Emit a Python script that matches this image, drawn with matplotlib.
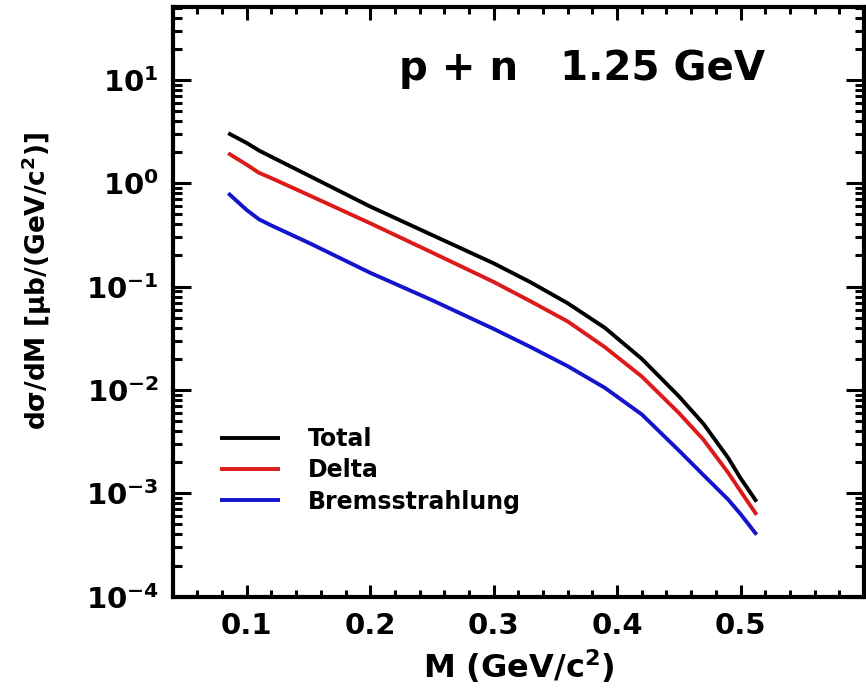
import numpy as np
import matplotlib.pyplot as plt
from matplotlib.ticker import FixedLocator, MultipleLocator, LogLocator, NullFormatter

plt.rcParams['font.family'] = 'DejaVu Sans'
plt.rcParams['font.weight'] = 'bold'
plt.rcParams['mathtext.default'] = 'bf'

# invariant mass (GeV/c^2)
mass = [0.085, 0.10, 0.11, 0.12, 0.15, 0.20, 0.25, 0.30, 0.33, 0.36,
        0.39, 0.42, 0.45, 0.47, 0.49, 0.50, 0.513]

# d sigma / dM  [mub/(GeV/c^2)]
total = [3.05, 2.45, 2.07, 1.80, 1.19, 0.595, 0.316, 0.168, 0.110, 0.069,
         0.040, 0.020, 0.0087, 0.0047, 0.0022, 0.0014, 0.00083]
delta = [1.95, 1.51, 1.26, 1.12, 0.77, 0.41, 0.214, 0.111, 0.072, 0.046,
         0.026, 0.0135, 0.0060, 0.0033, 0.00158, 0.00105, 0.00062]
brems = [0.80, 0.55, 0.447, 0.39, 0.266, 0.136, 0.074, 0.039, 0.026, 0.017,
         0.0105, 0.0058, 0.0026, 0.0015, 0.00087, 0.00063, 0.000398]

labels = ['Total', 'Delta', 'Bremsstrahlung']
colors = ['black', '#dd1a1a', '#1414cc']

fig = plt.figure(figsize=(8.66, 6.92), dpi=100)
ax = fig.add_axes([0.1994, 0.1377, 0.7983, 0.8526])

for ys, lab, c in zip([total, delta, brems], labels, colors):
    ax.plot(mass, ys, color=c, lw=2.8, label=lab, solid_capstyle='butt')

ax.set_yscale('log')
ax.set_xlim(0.04, 0.6)
ax.set_ylim(1e-4, 51)

ax.xaxis.set_major_locator(FixedLocator([0.1, 0.2, 0.3, 0.4, 0.5]))
ax.xaxis.set_minor_locator(MultipleLocator(0.02))
ax.set_xticklabels(['0.1', '0.2', '0.3', '0.4', '0.5'])
ax.yaxis.set_major_locator(FixedLocator([1e-4, 1e-3, 1e-2, 1e-1, 1e0, 1e1]))
ax.set_yticklabels([r'$10^{-4}$', r'$10^{-3}$', r'$10^{-2}$',
                    r'$10^{-1}$', r'$10^{0}$', r'$10^{1}$'])
ax.yaxis.set_minor_locator(LogLocator(base=10, subs=np.arange(2, 10), numticks=20))
ax.yaxis.set_minor_formatter(NullFormatter())

ax.tick_params(axis='both', which='both', direction='in', top=True, right=True,
               width=2.2, labelsize=21)
ax.tick_params(axis='x', which='major', length=9, pad=11)
ax.tick_params(axis='x', which='minor', length=5)
ax.tick_params(axis='y', which='major', length=13, pad=10)
ax.tick_params(axis='y', which='minor', length=6.5)
for sp in ax.spines.values():
    sp.set_linewidth(3)

ax.set_xlabel(r'M (GeV/c$^2$)', fontsize=23, fontweight='bold')
ax.xaxis.set_label_coords(0.5, -0.085)
ax.set_ylabel(r'd$\sigma$/dM [$\mu$b/(GeV/c$^2$)]', fontsize=19, fontweight='bold')
ax.yaxis.set_label_coords(-0.172, 0.535)

ax.text(0.327, 0.876, 'p + n   1.25 GeV', transform=ax.transAxes,
        fontsize=29, fontweight='bold', ha='left', va='baseline')

ax.legend(loc='center left', bbox_to_anchor=(0.068, 0.214), frameon=False,
          fontsize=17, handlelength=2.55, handletextpad=1.2, labelspacing=0.3,
          borderpad=0, borderaxespad=0)

fig.savefig('out.png', dpi=100)
